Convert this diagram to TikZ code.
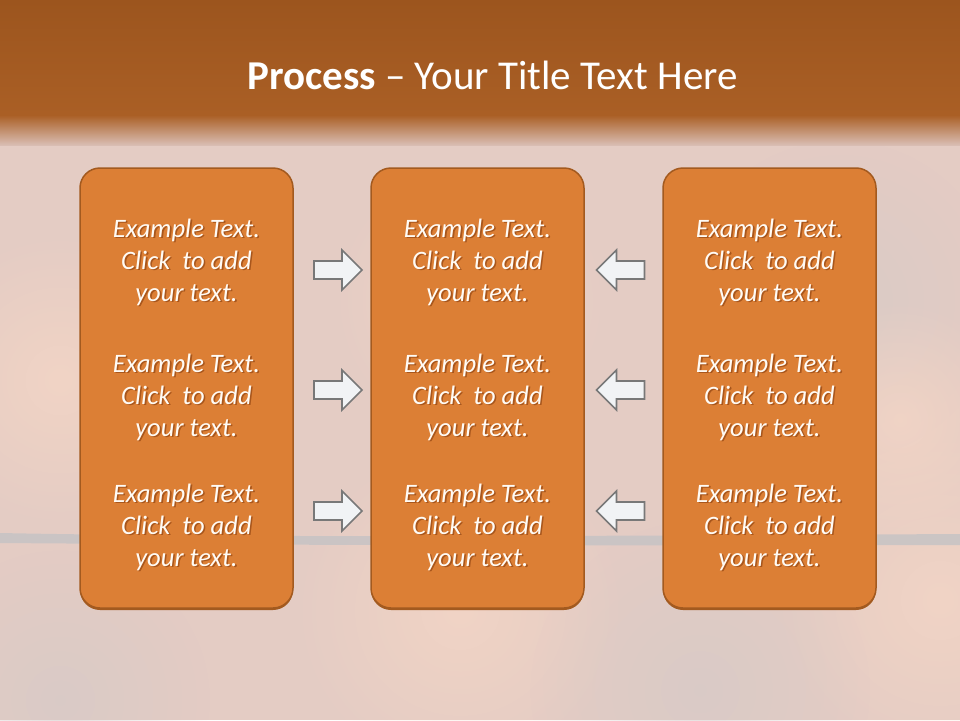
\documentclass[tikz,border=0pt]{standalone}
\usepackage{fontspec}
\setmainfont{Carlito}
\usepackage{tikz}
\usetikzlibrary{calc,positioning,fadings}
\usepackage{xcolor}

\definecolor{hdrtop}{HTML}{9C551E}
\definecolor{hdrmid}{HTML}{AA5F25}
\definecolor{hdrfade}{HTML}{D9BDB3}
\definecolor{bgpink}{HTML}{E4CCC4}
\definecolor{bgpeach}{HTML}{F8D8C6}
\definecolor{bggray}{HTML}{D4CAC8}
\definecolor{horizon}{HTML}{C8C4C4}
\definecolor{boxfill}{HTML}{DC7F35}
\definecolor{boxedge}{HTML}{A35A1F}
\definecolor{arrfill}{HTML}{F1F3F5}
\definecolor{arredge}{HTML}{787878}
\definecolor{txtwhite}{HTML}{FFFBF5}
\definecolor{txtshade}{HTML}{A8561C}

\tikzfading[name=softblob, inner color=transparent!35, outer color=transparent!100]

% text with a soft drop shadow, one line at a time
\newcommand{\txtshadow}[1]{\makebox[0pt][l]{\kern1.6pt\raisebox{-1.6pt}{\textcolor{txtshade}{#1}}}#1}

\begin{document}
\begin{tikzpicture}[x=1pt, y=-1pt,
		stage/.style={draw=boxedge, line width=1.5pt, fill=boxfill, rounded corners=20pt,
			minimum width=213pt, minimum height=440pt, inner sep=0pt,
			preaction={fill=boxedge, transform canvas={yshift=-2pt}}},
		lbl/.style={font=\fontsize{26.6}{32}\selectfont\itshape, text=txtwhite, align=center, inner sep=0pt},
		flow/.style={fill=arrfill, draw=arredge, line width=1.6pt, line join=miter}]

			\useasboundingbox (0,0) rectangle (960,720);

			\def\boxy{388}  % centre height of the three stages
			\def\rowys{270,390,511} % heights of the arrows

			% Background
			\fill[bgpink] (0,0) rectangle (960,720);
			\foreach \cx/\cy/\r/\c in {460/610/170/bgpeach, 940/600/170/bgpeach, 60/380/150/bgpeach,
				700/690/170/bggray, 60/700/150/bggray, 840/300/160/bggray, 470/300/140/bgpeach,
				900/420/120/bgpeach}
				\fill[\c, path fading=softblob] (\cx,\cy) circle (\r);

			% Horizon line
			\fill[horizon, opacity=0.9] (0,533) .. controls (250,538) and (600,536) .. (960,534)
				-- (960,545) .. controls (600,546) and (250,545) .. (0,543) -- cycle;

			% Header band
			\shade[top color=hdrtop, bottom color=hdrmid] (0,0) rectangle (960,115);
			\shade[top color=hdrmid, bottom color=hdrfade] (0,115) rectangle (960,145);

			% Title
			\node[font=\fontsize{41}{48}\selectfont, text=white] (title) at (492.5,75)
				{\textbf{Process} -- Your Title Text Here};

			% Stages
			\node[stage] (left) at (186.5,\boxy) {};
			\node[stage] (mid) at (477.5,\boxy) {};
			\node[stage] (right) at (769.5,\boxy) {};

			% Texts inside the stages
			\foreach \b/\bx in {l/186.5, m/477.5, r/769.5}
			\foreach \row/\ty in {1/263, 2/398, 3/528}{
				%
				\node[lbl] (t\b\row) at (\bx,\ty)
					{\txtshadow{Example Text.}\\\txtshadow{Click\ \ to add}\\\txtshadow{your text.}};
				%
			}

			% Arrows towards the middle stage
			\foreach \y in \rowys {
				\draw[flow, shift={(338,\y)}] (-24,-9) -- (4,-9) -- (4,-20) -- (24,0) -- (4,20) -- (4,9) -- (-24,9) -- cycle;
				\draw[flow, shift={(620.5,\y)}, xscale=-1] (-24,-9) -- (4,-9) -- (4,-20) -- (24,0) -- (4,20) -- (4,9) -- (-24,9) -- cycle;
			}
		\end{tikzpicture}
\end{document}
